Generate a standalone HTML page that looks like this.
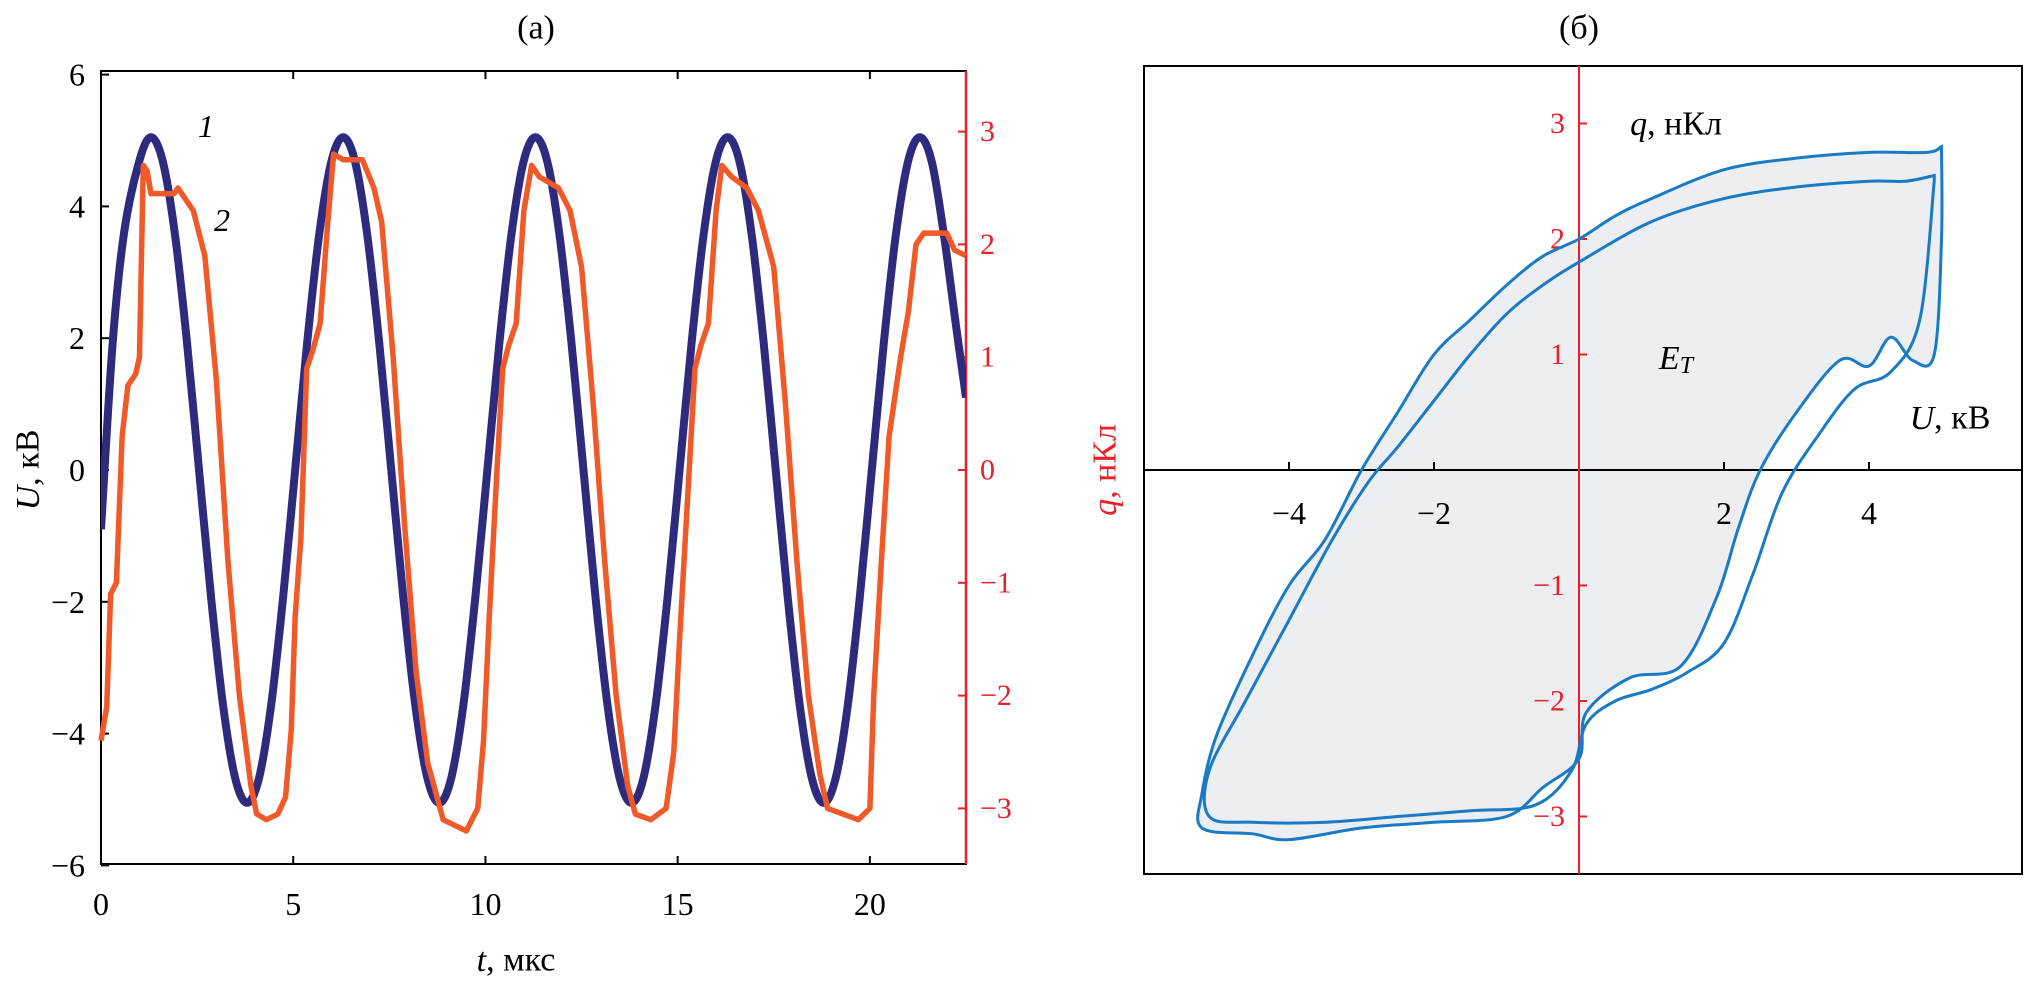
<!DOCTYPE html>
<html><head><meta charset="utf-8"><style>
body{margin:0;background:#fff}
svg{display:block;font-family:"Liberation Serif",serif}
</style></head><body>
<svg id="c" width="2026" height="983" viewBox="0 0 2026 983" xmlns="http://www.w3.org/2000/svg"></svg>
<script>
// ---- Panel (a) data ----
const tTicks=[0,5,10,15,20];
const uTicks=[-6,-4,-2,0,2,4,6];
const qTicks=[-3,-2,-1,0,1,2,3];
const voltT=[0,0.3,0.6,0.9875,1.3,1.6125,1.925,2.2375,2.55,2.8625,3.175,3.4875,3.8,4.1125,4.425,4.7375,5.05,5.3625,5.675,5.9875,6.3,6.6125,6.925,7.2375,7.55,7.8625,8.175,8.4875,8.8,9.1125,9.425,9.7375,10.05,10.3625,10.675,10.9875,11.3,11.6125,11.925,12.2375,12.55,12.8625,13.175,13.4875,13.8,14.1125,14.425,14.7375,15.05,15.3625,15.675,15.9875,16.3,16.6125,16.925,17.2375,17.55,17.8625,18.175,18.4875,18.8,19.1125,19.425,19.7375,20.05,20.3625,20.675,20.9875,21.3,21.6125,21.925,22.2375,22.5];
const voltU=[-0.9,1.9,3.6,4.67,5.05,4.67,3.57,1.93,0,-1.93,-3.57,-4.67,-5.05,-4.67,-3.57,-1.93,0,1.93,3.57,4.67,5.05,4.67,3.57,1.93,0,-1.93,-3.57,-4.67,-5.05,-4.67,-3.57,-1.93,0,1.93,3.57,4.67,5.05,4.67,3.57,1.93,0,-1.93,-3.57,-4.67,-5.05,-4.67,-3.57,-1.93,0,1.93,3.57,4.67,5.05,4.67,3.57,1.93,0,-1.93,-3.57,-4.67,-5.05,-4.67,-3.57,-1.93,0,1.93,3.57,4.67,5.05,4.67,3.57,2.2,1.1];
const chargeT=[0,0.15,0.25,0.4,0.55,0.7,0.9,1.0,1.1,1.2,1.3,1.9,2.0,2.4,2.7,3.0,3.3,3.6,3.9,4.05,4.3,4.6,4.8,4.95,5.05,5.2,5.35,5.5,5.7,5.9,6.05,6.3,6.8,7.1,7.3,7.6,7.9,8.2,8.5,8.9,9.2,9.5,9.8,9.95,10.1,10.3,10.45,10.6,10.8,11.0,11.2,11.4,11.9,12.2,12.5,12.8,13.1,13.4,13.7,13.9,14.3,14.7,14.9,15.05,15.25,15.45,15.6,15.8,16.0,16.15,16.4,16.8,17.1,17.5,17.8,18.1,18.4,18.7,18.9,19.3,19.7,20.0,20.1,20.3,20.5,20.8,21.0,21.2,21.4,22.0,22.2,22.5];
const chargeQ=[-2.4,-2.1,-1.1,-1.0,0.3,0.75,0.85,1.0,2.7,2.65,2.45,2.45,2.5,2.3,1.9,0.8,-0.8,-2.0,-2.8,-3.05,-3.1,-3.05,-2.9,-2.3,-1.3,-0.6,0.9,1.05,1.3,2.2,2.8,2.75,2.75,2.5,2.2,1.0,-0.5,-1.8,-2.6,-3.1,-3.15,-3.2,-3.0,-2.4,-1.3,0.0,0.9,1.1,1.3,2.3,2.7,2.6,2.5,2.3,1.8,0.6,-0.8,-2.0,-2.8,-3.05,-3.1,-3.0,-2.5,-1.5,-0.3,0.9,1.1,1.3,2.3,2.7,2.6,2.5,2.3,1.8,0.6,-0.8,-2.0,-2.7,-3.0,-3.05,-3.1,-3.0,-2.0,-0.8,0.3,1.0,1.4,2.0,2.1,2.1,1.95,1.9];
// ---- Panel (b) data ----
const bUTicks=[-4,-2,2,4];
const bQTicks=[-3,-2,-1,1,2,3];
const loop1U=[5.0,4.8,4.0,3.0,2.0,1.0,0.5,0,-0.5,-1.0,-1.5,-2.0,-2.5,-3.0,-3.5,-4.0,-4.5,-5.0,-5.2,-5.2,-4.5,-4.0,-3.0,-2.0,-1.0,-0.5,0,0.1,0.7,1.4,1.9,2.2,2.5,3.0,3.6,4.0,4.3,4.6,4.9,5.0,5.0];
const loop1Q=[2.8,2.75,2.75,2.7,2.6,2.35,2.2,2.0,1.85,1.6,1.3,1.0,0.5,0,-0.6,-1.0,-1.6,-2.3,-2.8,-3.1,-3.15,-3.2,-3.1,-3.05,-3.0,-2.75,-2.5,-2.1,-1.8,-1.7,-1.1,-0.5,0.0,0.5,0.95,0.9,1.15,0.95,1.0,2.0,2.8];
const loop2U=[4.9,4.5,4.0,3.0,2.0,1.0,0,-0.5,-1.0,-1.5,-2.0,-2.5,-2.9,-3.4,-4.0,-4.6,-5.1,-5.1,-4.5,-3.5,-2.5,-1.5,-0.6,-0.1,0.1,0.5,1.0,1.5,2.0,2.4,2.8,3.3,3.8,4.3,4.7,4.9];
const loop2Q=[2.55,2.5,2.5,2.45,2.35,2.15,1.8,1.6,1.35,1.0,0.6,0.2,-0.1,-0.6,-1.3,-2.0,-2.6,-3.0,-3.05,-3.05,-3.0,-2.95,-2.9,-2.6,-2.2,-2.0,-1.9,-1.75,-1.5,-0.9,-0.2,0.3,0.7,0.85,1.3,2.5];
</script>
<script>
const NS="http://www.w3.org/2000/svg";
const svg=document.getElementById('c');
function mk(tag,attrs,parent){const e=document.createElementNS(NS,tag);for(const k in attrs)e.setAttribute(k,attrs[k]);(parent||svg).appendChild(e);return e;}
function txt(s,x,y,size,fill,anchor,parent,style){const e=mk('text',{x:x,y:y,'font-size':size,fill:fill||'#000','text-anchor':anchor||'middle','dominant-baseline':'central'},parent);if(style)e.setAttribute('style',style);e.innerHTML=s;return e;}
function spline(pts){let d='M'+pts[0][0]+','+pts[0][1];for(let i=0;i<pts.length-1;i++){const p0=pts[Math.max(i-1,0)],p1=pts[i],p2=pts[i+1],p3=pts[Math.min(i+2,pts.length-1)];const c1=[p1[0]+(p2[0]-p0[0])/6,p1[1]+(p2[1]-p0[1])/6],c2=[p2[0]-(p3[0]-p1[0])/6,p2[1]-(p3[1]-p1[1])/6];d+=' C'+c1[0]+','+c1[1]+' '+c2[0]+','+c2[1]+' '+p2[0]+','+p2[1];}return d;}
// Panel a axes
const L=101,R=966,T=71,B=864;
const xA=t=>L+(t-0)/22.5*(R-L);
const yU=u=>470-u*65.9;
const yQ=q=>470-q*112.8;
const ga=mk('g',{});


const frame=mk('rect',{x:L,y:T,width:R-L,height:B-T,fill:'none',stroke:'#000','stroke-width':2},ga);


mk('line',{x1:R,y1:T,x2:R,y2:B,stroke:'#e8202a','stroke-width':2.5},ga);
tTicks.forEach(t=>{mk('line',{x1:xA(t),y1:B,x2:xA(t),y2:B-8,stroke:'#000','stroke-width':2},ga);mk('line',{x1:xA(t),y1:T,x2:xA(t),y2:T+8,stroke:'#000','stroke-width':2},ga);const e=txt(String(t),xA(t),904,32,'#000','middle',ga);});
uTicks.forEach(u=>{mk('line',{x1:L,y1:yU(u),x2:L+8,y2:yU(u),stroke:'#000','stroke-width':2},ga);const e=txt(String(u).replace('-','−'),L-16,yU(u),32,'#000','end',ga);});
qTicks.forEach(q=>{mk('line',{x1:R,y1:yQ(q),x2:R-8,y2:yQ(q),stroke:'#e8202a','stroke-width':2},ga);const e=txt(String(q).replace('-','−'),R+14,yQ(q),30,'#e8202a','start',ga);});
const xt=txt('<tspan font-style="italic">t</tspan>, мкс',516,960,34,'#000','middle',ga);

const yt=txt('<tspan font-style="italic">U</tspan>, кВ',0,0,34,'#000','middle',ga);
yt.setAttribute('transform','translate(28,470) rotate(-90)');

const qt=txt('<tspan font-style="italic">q</tspan>, нКл',0,0,34,'#e8202a','middle',ga);
qt.setAttribute('transform','translate(1105,470) rotate(-90)');

const ta=txt('(a)',536,28,34,'#000','middle',ga);

const cl=mk('clipPath',{id:'ca'});mk('rect',{x:L,y:T,width:R-L,height:B-T},cl);
const volt=mk('path',{d:spline(voltT.map((t,i)=>[xA(t),yU(voltU[i])])),fill:'none',stroke:'#2e2a7e','stroke-width':8,'clip-path':'url(#ca)'},ga);

const chg=mk('polyline',{points:chargeT.map((t,i)=>xA(t)+','+yQ(chargeQ[i])).join(' '),fill:'none',stroke:'#f05a28','stroke-width':5.5,'stroke-linejoin':'round'},ga);

const l1=txt('1',206,126,32,'#000','middle',ga,'font-style:italic');

const l2=txt('2',222,220,32,'#000','middle',ga,'font-style:italic');

// Panel b
const BL=1144,BR=2022,BT=66,BB=874,X0=1579,Y0=470;
const xB=u=>X0+u*72.5;
const yB=q=>Y0-q*115.5;
const gb=mk('g',{});


const fb=mk('rect',{x:BL,y:BT,width:BR-BL,height:BB-BT,fill:'none',stroke:'#000','stroke-width':2},gb);

const tb=txt('(б)',1579,28,34,'#000','middle',gb);

const fill=mk('path',{d:spline(loop1U.map((u,i)=>[xB(u),yB(loop1Q[i])]))+'Z',fill:'#eceef2',stroke:'none'},gb);

mk('line',{x1:BL,y1:Y0,x2:BR,y2:Y0,stroke:'#000','stroke-width':2},gb);
mk('line',{x1:X0,y1:BT,x2:X0,y2:BB,stroke:'#e8202a','stroke-width':2},gb);
bUTicks.forEach(u=>{mk('line',{x1:xB(u),y1:Y0,x2:xB(u),y2:Y0-8,stroke:'#000','stroke-width':2},gb);const e=txt(String(u).replace('-','−'),xB(u),513,32,'#000','middle',gb);});
bQTicks.forEach(q=>{mk('line',{x1:X0,y1:yB(q),x2:X0+8,y2:yB(q),stroke:'#e8202a','stroke-width':2},gb);const e=txt(String(q).replace('-','−'),X0-14,yB(q),30,'#e8202a','end',gb);});
[[loop1U,loop1Q,'loop-cycle-1'],[loop2U,loop2Q,'loop-cycle-2']].forEach(([U,Q,n])=>{const p=mk('path',{d:spline(U.map((u,i)=>[xB(u),yB(Q[i])]))+'Z',fill:'none',stroke:'#1a7ac4','stroke-width':3},gb);});
const qa=txt('<tspan font-style="italic">q</tspan>, нКл',1676,124,34,'#000','middle',gb);

const ua=txt('<tspan font-style="italic">U</tspan>, кВ',1950,418,34,'#000','middle',gb);

const et=txt('<tspan font-style="italic">E</tspan><tspan font-style="italic" font-size="24" dy="8">T</tspan>',1676,358,34,'#000','middle',gb);

</script>
</body></html>
